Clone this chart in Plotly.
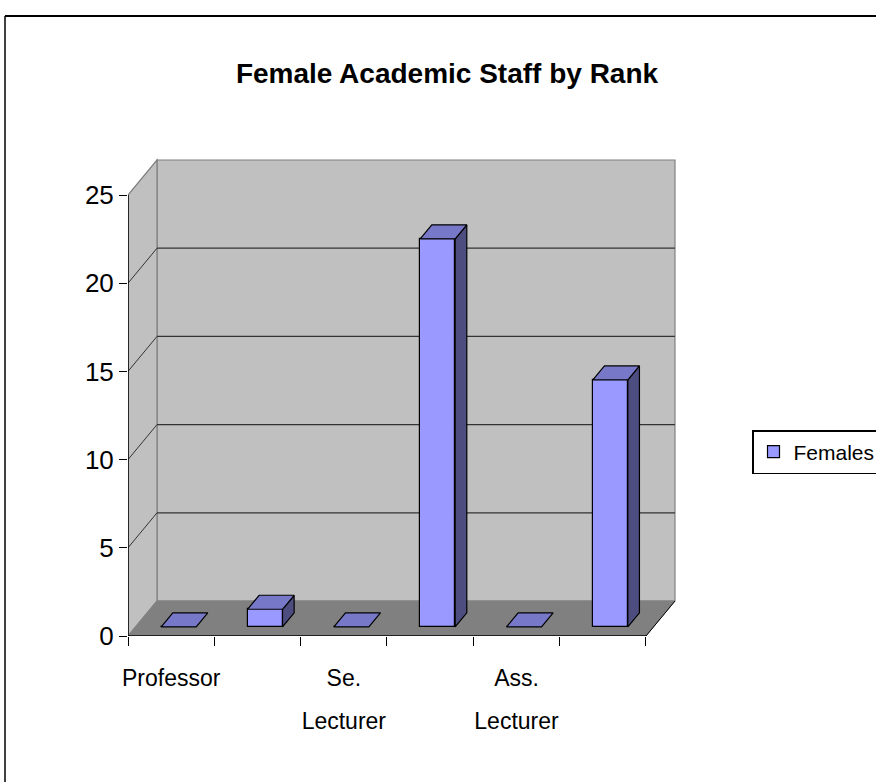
import plotly.graph_objects as go

# ---- data ----
tick_labels_line1 = ["Professor", "", "Se.", "", "Ass.", ""]
tick_labels_line2 = ["", "", "Lecturer", "", "Lecturer", ""]
females = [0, 1, 0, 22, 0, 14]
y_ticks = [0, 5, 10, 15, 20, 25]

# ---- geometry (axis units) ----
W, H = 876, 782
L, R, T, B = 128, 186, 150, 146
PW, PH = W - L - R, H - T - B
PX_X = 86.33          # px per category
PX_Y = 17.64          # px per value unit
XMAX = PW / PX_X
YMAX = PH / PX_Y
NCAT = len(females)
YTOP = 25
DX = 29 / PX_X        # depth offset in x units
DY = 35 / PX_Y        # depth offset in y units
D0, D1 = 0.26, 0.66   # bar depth start/end fraction
BW = 35 / PX_X        # bar front width

FONT = "Liberation Sans Narrow, Arial Narrow, Liberation Sans, Arial, sans-serif"

def paper_x(px):
    return (px - L) / PW

def paper_y(py):
    return (H - B - py) / PH

fig = go.Figure()

# bar front faces
xc = [i + 0.5 + D0 * DX for i in range(NCAT)]
fig.add_trace(go.Bar(
    x=xc, y=females, base=[D0 * DY] * NCAT, width=BW,
    marker=dict(color="#9999ff", line=dict(color="black", width=1.2)),
    name="Females", showlegend=True,
))

# tops and sides
ddx, ddy = (D1 - D0) * DX, (D1 - D0) * DY
b0 = D0 * DY
tx, ty, sx, sy = [], [], [], []
for c, v in zip(xc, females):
    x0, x1 = c - BW / 2, c + BW / 2
    tx += [x0, x1, x1 + ddx, x0 + ddx, x0, None]
    ty += [v + b0, v + b0, v + b0 + ddy, v + b0 + ddy, v + b0, None]
    if v > 0:
        sx += [x1, x1, x1 + ddx, x1 + ddx, x1, None]
        sy += [b0, v + b0, v + b0 + ddy, b0 + ddy, b0, None]
fig.add_trace(go.Scatter(x=sx, y=sy, mode="lines", fill="toself",
                         fillcolor="#4d4d80", line=dict(color="black", width=1.2),
                         showlegend=False, hoverinfo="skip"))
fig.add_trace(go.Scatter(x=tx, y=ty, mode="lines", fill="toself",
                         fillcolor="#7878c8", line=dict(color="black", width=1.2),
                         showlegend=False, hoverinfo="skip"))
# invisible trace on the second x axis so that its labels are drawn
fig.add_trace(go.Scatter(x=[0.5], y=[0], xaxis="x2", mode="markers",
                         marker=dict(opacity=0), showlegend=False, hoverinfo="skip"))

shapes = []
# walls
shapes.append(dict(type="path", xref="x", yref="y", layer="below",
                   path=f"M {DX},{DY} L {NCAT+DX},{DY} L {NCAT+DX},{YTOP+DY} L {DX},{YTOP+DY} Z",
                   fillcolor="#c0c0c0", line=dict(color="#808080", width=1.2)))
shapes.append(dict(type="path", xref="x", yref="y", layer="below",
                   path=f"M 0,0 L {DX},{DY} L {DX},{YTOP+DY} L 0,{YTOP} Z",
                   fillcolor="#c0c0c0", line=dict(color="#808080", width=1.2)))
shapes.append(dict(type="path", xref="x", yref="y", layer="below",
                   path=f"M 0,0 L {NCAT},0 L {NCAT+DX},{DY} L {DX},{DY} Z",
                   fillcolor="#808080", line=dict(color="#808080", width=1)))
# gridlines
for v in y_ticks[1:-1]:
    shapes.append(dict(type="line", xref="x", yref="y", layer="below",
                       x0=DX, x1=NCAT + DX, y0=v + DY, y1=v + DY,
                       line=dict(color="#333333", width=1.2)))
    shapes.append(dict(type="line", xref="x", yref="y", layer="below",
                       x0=0, x1=DX, y0=v, y1=v + DY,
                       line=dict(color="#333333", width=1)))
# axis lines / floor edges
shapes.append(dict(type="line", xref="x", yref="y", x0=0, x1=0, y0=0, y1=YTOP,
                   line=dict(color="black", width=1.5)))
shapes.append(dict(type="line", xref="x", yref="y", x0=0, x1=NCAT, y0=0, y1=0,
                   line=dict(color="black", width=1.5)))
shapes.append(dict(type="line", xref="x", yref="y", x0=NCAT, x1=NCAT + DX, y0=0, y1=DY,
                   line=dict(color="black", width=1)))
# outer chart border
shapes.append(dict(type="line", xref="paper", yref="paper",
                   x0=paper_x(5), x1=paper_x(W + 5), y0=paper_y(16), y1=paper_y(16),
                   line=dict(color="black", width=2)))
shapes.append(dict(type="line", xref="paper", yref="paper",
                   x0=paper_x(5), x1=paper_x(5), y0=paper_y(16), y1=paper_y(H + 5),
                   line=dict(color="black", width=1.5)))

XFONT = 23
fig.update_layout(
    width=W, height=H,
    margin=dict(l=L, r=R, t=T, b=B, autoexpand=False),
    paper_bgcolor="white", plot_bgcolor="white",
    font=dict(family=FONT, color="black"),
    title=dict(text="<b>Female Academic Staff by Rank</b>", xref="container", yref="container",
               x=447 / W, y=1 - 73 / H, xanchor="center", yanchor="middle",
               font=dict(size=28, family=FONT, color="black")),
    xaxis=dict(range=[0, XMAX], showgrid=False, zeroline=False, showline=False,
               tickmode="array", tickvals=[i + 0.5 for i in range(NCAT)], ticktext=tick_labels_line1,
               ticks="", ticklabelstandoff=26, tickfont=dict(size=XFONT, family=FONT),
               minor=dict(tickmode="array", tickvals=list(range(NCAT + 1)), ticks="outside",
                          ticklen=9, tickwidth=1.3, tickcolor="black", showgrid=False)),
    xaxis2=dict(range=[0, XMAX], overlaying="x", side="bottom", anchor="y", matches="x",
                showgrid=False, zeroline=False, showline=False,
                tickmode="array", tickvals=[i + 0.5 for i in range(NCAT)], ticktext=tick_labels_line2,
                ticks="", ticklabelstandoff=69, tickfont=dict(size=XFONT, family=FONT)),
    yaxis=dict(range=[0, YMAX], showgrid=False, zeroline=False, showline=False,
               tickmode="array", tickvals=y_ticks, ticks="outside", ticklen=8,
               tickwidth=1.3, tickcolor="black", tickfont=dict(size=26, family=FONT)),
    legend=dict(xref="container", yref="container", x=752 / W, y=1 - 430 / H,
                xanchor="left", yanchor="top", bordercolor="black", borderwidth=1.5,
                bgcolor="white", font=dict(size=21, family=FONT)),
    shapes=shapes,
    bargap=0,
)

fig.write_html("out.html", config={"displayModeBar": False},
               post_script="document.body.style.margin='0px';")
